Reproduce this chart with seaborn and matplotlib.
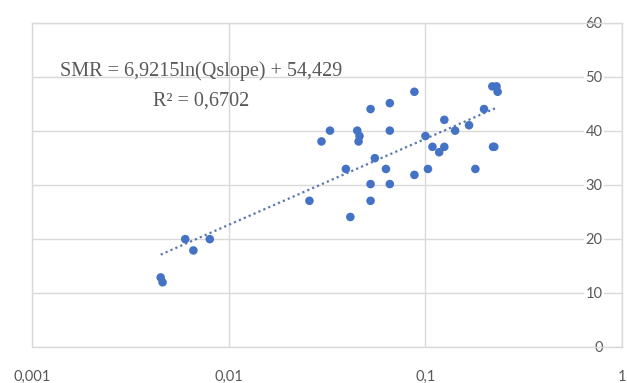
import numpy as np
import pandas as pd
import matplotlib
matplotlib.use("Agg")
import matplotlib.pyplot as plt
import seaborn as sns
from matplotlib.ticker import FixedLocator, FixedFormatter, NullLocator

# ---- data ----
qslope = [0.0045, 0.0046, 0.0060, 0.0066, 0.0080, 0.0257, 0.0296, 0.0327,
          0.0394, 0.0415, 0.0450, 0.0462, 0.0457, 0.0526, 0.0526, 0.0526,
          0.0553, 0.0630, 0.0659, 0.0659, 0.0659, 0.0879, 0.0879, 0.1000,
          0.1030, 0.1086, 0.1175, 0.1248, 0.1248, 0.1416, 0.1667, 0.1795,
          0.1987, 0.2208, 0.2240, 0.2190, 0.2300, 0.2330]
smr = [12.8, 11.9, 19.9, 17.8, 19.9, 27.0, 38.0, 40.0,
       32.9, 24.0, 40.0, 39.0, 38.0, 44.0, 30.1, 27.0,
       34.9, 32.9, 45.1, 40.0, 30.1, 47.2, 31.8, 39.0,
       32.9, 37.0, 36.0, 37.0, 42.0, 40.0, 41.0, 32.9,
       44.0, 37.0, 37.0, 48.2, 48.2, 47.2]

trend_slope = 6.9215
trend_intercept = 54.429
equation_text = "SMR = 6,9215ln(Qslope) + 54,429"
r2_text = "R² = 0,6702"

x_ticks = [0.001, 0.01, 0.1, 1]
x_tick_labels = ["0,001", "0,01", "0,1", "1"]
y_ticks = [0, 10, 20, 30, 40, 50, 60]
y_tick_labels = ["0", "10", "20", "30", "40", "50", "60"]

df = pd.DataFrame({"Qslope": qslope, "SMR": smr})

sns.set_style("white")
plt.rcParams["font.family"] = ["Lato", "DejaVu Sans"]

grid_c = "#d9d9d9"
text_c = "#595959"
blue = "#4472c4"

W, H = 627, 383
fig = plt.figure(figsize=(W / 100, H / 100), dpi=100)
ax = fig.add_axes([0.0515, 0.0953, 0.9405, 0.8454])

ax.set_xscale("log")
ax.set_xlim(0.001, 1)
ax.set_ylim(0, 60)

# trendline from the regression equation over the data range
xt = np.logspace(np.log10(min(qslope)), np.log10(0.228), 200)
yt = trend_slope * np.log(xt) + trend_intercept
ax.plot(xt, yt, color="#5a78b0", lw=1.6, ls=(0, (1, 1.4)), zorder=2)

sns.scatterplot(data=df, x="Qslope", y="SMR", ax=ax, color=blue, s=38,
                edgecolor="none", linewidth=0, zorder=3, legend=False)

ax.set_xlabel("")
ax.set_ylabel("")

ax.xaxis.set_major_locator(FixedLocator(x_ticks))
ax.xaxis.set_major_formatter(FixedFormatter(x_tick_labels))
ax.xaxis.set_minor_locator(NullLocator())
ax.yaxis.set_major_locator(FixedLocator(y_ticks))
ax.yaxis.set_major_formatter(FixedFormatter(y_tick_labels))

ax.grid(True, which="major", color=grid_c, lw=1.0, zorder=0)
ax.set_axisbelow(True)
for sp in ax.spines.values():
    sp.set_color(grid_c)
    sp.set_linewidth(1.0)

ax.tick_params(axis="x", length=0, pad=17, labelsize=10.5, labelcolor=text_c)
ax.yaxis.tick_right()
ax.tick_params(axis="y", length=0, pad=-14, labelsize=10.5, labelcolor=text_c,
               labelright=True, labelleft=False)
for lab in ax.get_yticklabels():
    lab.set_horizontalalignment("right")
    lab.set_bbox(dict(facecolor="white", edgecolor="none", pad=1.0))

serif = ["Liberation Serif", "DejaVu Serif"]
fig.text(201 / W, 1 - 71 / H, equation_text, fontsize=14.5, family=serif,
         color=text_c, ha="center", va="center")
fig.text(201 / W, 1 - 101 / H, r2_text, fontsize=14.5, family=serif,
         color=text_c, ha="center", va="center")

fig.savefig("out.png", dpi=100)
